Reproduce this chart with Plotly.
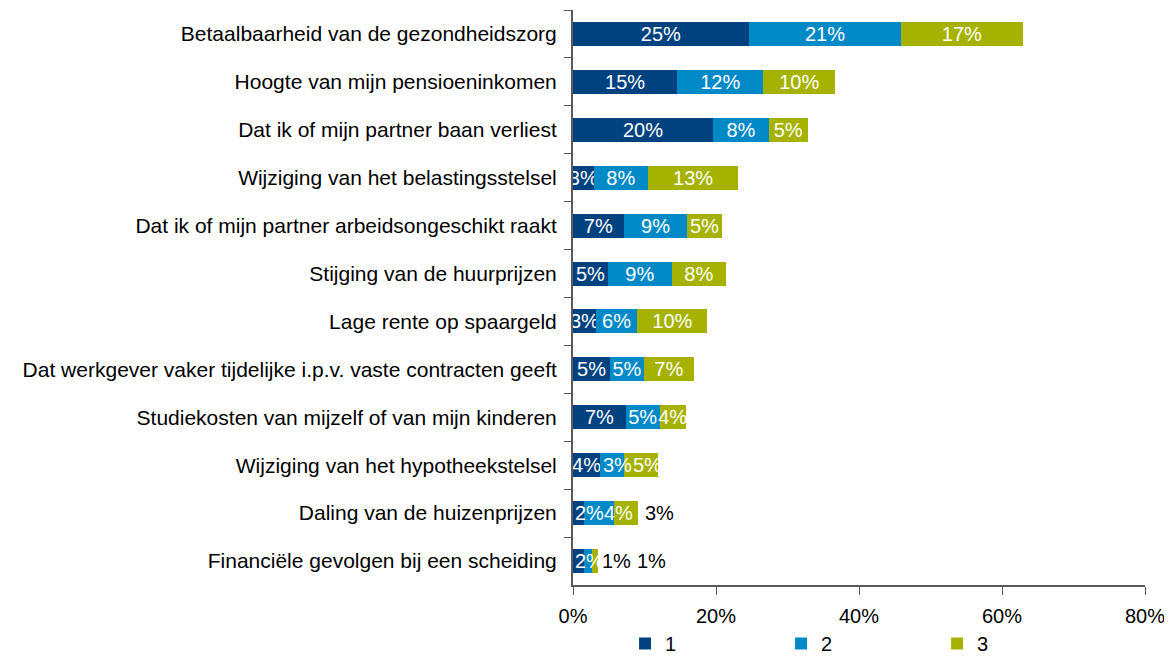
import plotly.graph_objects as go

# Data (percent of respondents, rank 1/2/3)
categories = [
    "Betaalbaarheid van de gezondheidszorg",
    "Hoogte van mijn pensioeninkomen",
    "Dat ik of mijn partner baan verliest",
    "Wijziging van het belastingsstelsel",
    "Dat ik of mijn partner arbeidsongeschikt raakt",
    "Stijging van de huurprijzen",
    "Lage rente op spaargeld",
    "Dat werkgever vaker tijdelijke i.p.v. vaste contracten geeft",
    "Studiekosten van mijzelf of van mijn kinderen",
    "Wijziging van het hypotheekstelsel",
    "Daling van de huizenprijzen",
    "Financiële gevolgen bij een scheiding",
]
rank1 = [24.6, 14.6, 19.6, 2.9, 7.1, 4.9, 3.2, 5.2, 7.4, 3.8, 1.6, 1.6]
rank2 = [21.3, 12.0, 7.8, 7.6, 8.9, 8.9, 5.8, 4.7, 4.7, 3.4, 4.1, 1.1]
rank3 = [17.0, 10.1, 5.4, 12.6, 4.8, 7.6, 9.8, 7.0, 3.7, 4.7, 3.4, 0.8]
series_names = ["1", "2", "3"]
x_ticks = [0, 20, 40, 60, 80]

COLORS = ["#00427F", "#0089C7", "#A5B300"]
FONT = "Liberation Sans, Arial, sans-serif"
LABEL_SIZE = 20

# Data labels that Excel moved out of the middle of their segment:
# (category index, series index) -> (anchor on the segment, xanchor, xshift px, colour)
LABEL_MOVES = {
    (9, 1): ("center", "center", 5, "white"),
    (9, 2): ("center", "center", 6, "white"),
    (10, 0): ("start", "left", 0, "white"),
    (10, 1): ("center", "center", 19, "white"),
    (10, 2): ("total", "left", 5, "black"),
    (11, 0): ("start", "left", 0, "white"),
    (11, 1): ("total", "left", 2, "black"),
    (11, 2): ("total", "left", 37, "black"),
}

# the page body has an 8px margin, so the figure is sized/shifted to compensate
W, H = 1164, 650
M = dict(l=565, r=27, t=2, b=73, autoexpand=False)
plot_h = H - M["t"] - M["b"]

series = [rank1, rank2, rank3]

fig = go.Figure()
for s, (name, vals, color) in enumerate(zip(series_names, series, COLORS)):
    text = ["" if (i, s) in LABEL_MOVES else f"{round(v)}%" for i, v in enumerate(vals)]
    fig.add_trace(go.Bar(
        y=categories, x=vals, name=name, orientation="h",
        marker={"color": color, "line": {"width": 0}},
        text=text, textposition="inside", insidetextanchor="middle",
        textangle=0, constraintext="none",
        textfont={"color": "white", "size": LABEL_SIZE, "family": FONT},
        hoverinfo="skip",
    ))

annotations = []
for (i, s), (where, anchor, shift, color) in LABEL_MOVES.items():
    start = sum(series[k][i] for k in range(s))
    end = start + series[s][i]
    total = sum(series[k][i] for k in range(3))
    x = {"start": start, "center": (start + end) / 2, "end": end, "total": total}[where]
    annotations.append(dict(
        x=x, y=categories[i], xref="x", yref="y",
        text=f"{round(series[s][i])}%", showarrow=False,
        xanchor=anchor, xshift=shift,
        font={"color": color, "size": LABEL_SIZE, "family": FONT},
    ))

fig.update_layout(
    barmode="stack",
    bargap=0.5,
    width=W, height=H,
    margin=M,
    paper_bgcolor="white",
    plot_bgcolor="white",
    font={"family": FONT, "size": 20, "color": "black"},
    uniformtext={"minsize": LABEL_SIZE, "mode": "show"},
    annotations=annotations,
    showlegend=True,
    legend={
        "orientation": "h", "x": 0.091, "y": -39 / plot_h,
        "xanchor": "left", "yanchor": "top",
        "bgcolor": "rgba(0,0,0,0)",
        "entrywidth": 111, "entrywidthmode": "pixels",
        "font": {"size": 20, "family": FONT},
        "traceorder": "normal",
    },
)
fig.update_xaxes(
    range=[0, 80], tickvals=x_ticks, ticktext=[f"{v}%" for v in x_ticks],
    showline=True, linecolor="#595959", linewidth=1.5,
    ticks="outside", ticklen=8, tickcolor="#595959",
    ticklabelstandoff=4,
    showgrid=False, zeroline=False,
)
fig.update_yaxes(
    autorange="reversed",
    showline=True, linecolor="#595959", linewidth=2,
    ticks="outside", ticklen=7, tickcolor="#595959", tickson="boundaries",
    ticklabelstandoff=10,
    tickfont={"size": 21},
    showgrid=False,
)

fig.write_html("out.html")
